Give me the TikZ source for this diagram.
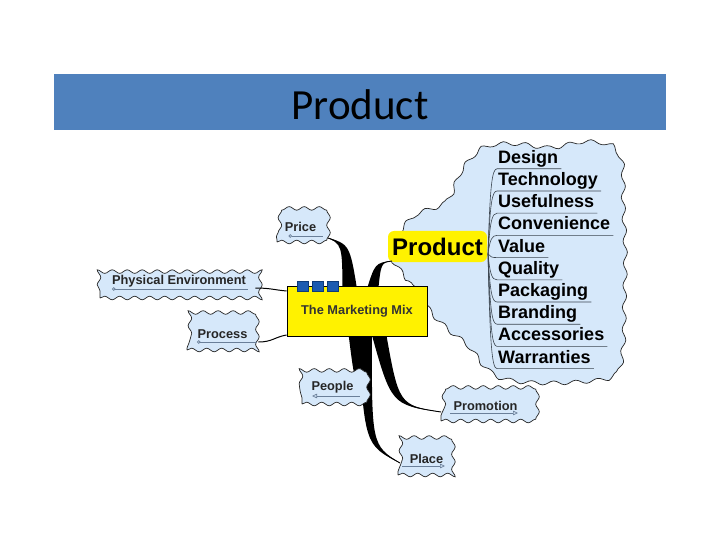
\documentclass[tikz,border=0pt]{standalone}
\usepackage{fontspec}
\setmainfont{Liberation Sans}
\newfontfamily\calibrifont{Carlito}
\usetikzlibrary{decorations.pathmorphing,calc,arrows.meta}
\definecolor{titleblue}{HTML}{4F81BD}
\definecolor{cloudblue}{HTML}{D6E8FA}
\definecolor{ulinecol}{HTML}{6A7F99}
\definecolor{fancol}{HTML}{3C4650}
\definecolor{sqblue}{HTML}{1C5BB0}
\definecolor{sqedge}{HTML}{0D3B7A}
\tikzset{
  smallcloud/.style={draw=black!85, line width=0.7pt, fill=cloudblue, decorate,
    decoration={snake, amplitude=1.8pt, segment length=15pt}, inner sep=0pt,
    font=\fontsize{12.8}{14}\selectfont\bfseries, text=black!85},
  uline/.style={draw=ulinecol, line width=0.7pt},
  fanline/.style={draw=fancol, line width=0.6pt},
  itemtext/.style={font=\fontsize{18}{20}\selectfont\bfseries, text=black, inner sep=0pt},
  thinconn/.style={draw=black, line width=1pt},
  branch/.style={fill=black},
  sqbox/.style={fill=sqblue, draw=sqedge, line width=0.5pt, minimum width=11pt, minimum height=10pt, inner sep=0pt},
}
\newcommand\taperbranch[4]{%
  \fill[branch] ($(#1)+(-#4,0)$) .. controls ($(#2)+(-0.5*#4,0)$) .. (#3)
     .. controls ($(#2)+(0.5*#4,0)$) .. ($(#1)+(#4,0)$) -- cycle;
  \draw[line width=0.9pt] (#1) .. controls (#2) .. (#3);
}
\begin{document}
\begin{tikzpicture}[x=1pt,y=-1pt]
\useasboundingbox (0,0) rectangle (720,540);
\fill[white] (0,0) rectangle (720,540);

% title bar
\node[fill=titleblue, minimum width=612pt, minimum height=56pt, inner sep=0pt] (bar) at (360,102) {};
\node[font=\calibrifont\fontsize{43}{48}\selectfont, anchor=base, text=black, inner sep=0pt] (title) at (360,120) {Product};

% big cloud
\filldraw[fill=cloudblue, draw=black!85, line width=0.7pt, decorate,
  decoration={snake, amplitude=2pt, segment length=22pt}]
  plot[smooth cycle, tension=0.55] coordinates {
   (395,262) (413,285) (428,308) (445,325) (465,341) (480,360) (497,373)
   (530,378) (580,377) (613,370) (620,340) (621,300) (622,250) (620,200)
   (619,160) (608,141) (580,137) (547,143) (512,139) (480,143) (458,166)
   (443,197) (412,210) (393,233) (387,248)};

% fan lines and items
\coordinate (fan) at (488,254);
\foreach \t [count=\i from 0] in {Design,Technology,Usefulness,Convenience,Value,Quality,Packaging,Branding,Accessories,Warranties}{
  \pgfmathsetmacro\yb{163.3+22.2*\i}
  \pgfmathsetmacro\yu{\yb+5.5}
  \pgfmathsetmacro\yc{\yu+0.2*(254-\yu)}
  \node[itemtext, anchor=base west] (it\i) at (498,\yb) {\t};
  \draw[fanline] (fan) .. controls (490,\yc) and (492,\yu) .. (497,\yu) -- ($(it\i.base east)+(3,5.5)$);
}

% product label
\node[fill=yellow, rounded corners=6pt, minimum width=99pt, minimum height=31pt, inner sep=0pt,
  font=\fontsize{24}{26}\selectfont\bfseries] (prod) at (437.5,246.5) {Product};

% marketing mix box position
\coordinate (mixc) at (357,311);

% thick branches
\coordinate (rprice) at (350,292);
\coordinate (cprice) at (346,244);
\coordinate (tprice) at (325,237);
\coordinate (rprod) at (372,292);
\coordinate (cprod) at (378,263);
\coordinate (tprod) at (392,261);
\coordinate (rpeople) at (354,330);
\coordinate (cpeople) at (357,378);
\coordinate (tpeople) at (362,396);
\coordinate (rplace) at (365,330);
\coordinate (cplace) at (368,445);
\coordinate (tplace) at (400,463);
\coordinate (rpromo) at (378,330);
\coordinate (cpromo) at (395,405);
\coordinate (tpromo) at (441,412);
\taperbranch{rprice}{cprice}{tprice}{7.5}
\taperbranch{rprod}{cprod}{tprod}{6}
\taperbranch{rpeople}{cpeople}{tpeople}{6}
\taperbranch{rplace}{cplace}{tplace}{7}
\taperbranch{rpromo}{cpromo}{tpromo}{7.5}

% small clouds
\node[smallcloud, minimum width=47pt, minimum height=30pt] (price) at (300.5,227) {Price};
\node[smallcloud, minimum width=158pt, minimum height=34pt] (pe) at (179,281) {Physical Environment};
\node[smallcloud, minimum width=71pt, minimum height=32pt] (proc) at (222.5,334) {Process};
\node[smallcloud, minimum width=61pt, minimum height=33pt] (people) at (332.5,387.5) {People};
\node[smallcloud, minimum width=89pt, minimum height=31pt] (promo) at (485.5,405.5) {Promotion};
\node[smallcloud, minimum width=57pt, minimum height=32pt] (place) at (426.5,459) {Place};

% underlines in small clouds
\draw[uline, {Circle[open,length=3.5pt,width=3.5pt]}-] ($(price.center)+(-12,9)$) -- ($(price.center)+(22,9)$);
\draw[uline, {Circle[open,length=3.5pt,width=3.5pt]}-] ($(pe.center)+(-67,8)$) -- ($(pe.center)+(69,8)$);
\draw[uline, {Circle[open,length=3.5pt,width=3.5pt]}-] ($(proc.center)+(-25.5,8)$) -- ($(proc.center)+(34,8)$);
\draw[uline, {Triangle[open,length=5pt,width=4.5pt]}-] ($(people.center)+(-20.5,8.5)$) -- ($(people.center)+(27.5,8.5)$);
\draw[uline, -{Triangle[open,length=5pt,width=4.5pt]}] ($(promo.center)+(-35.5,7.5)$) -- ($(promo.center)+(32.5,7.5)$);
\draw[uline, -{Triangle[open,length=5pt,width=4.5pt]}] ($(place.center)+(-24.5,7)$) -- ($(place.center)+(18.5,7)$);

% marketing mix box
\node[fill=yellow, draw=black, line width=0.8pt, minimum width=140pt, minimum height=50pt, inner sep=0pt,
  font=\fontsize{12.8}{14}\selectfont\bfseries, text=black!80] (mix) at (mixc) {The Marketing Mix};
\node[sqbox] (sq1) at (302.5,286) {};
\node[sqbox] (sq2) at (317.5,286) {};
\node[sqbox] (sq3) at (332.5,286) {};

% thin connectors
\draw[thinconn] ($(pe.east)+(-3,7)$) .. controls ($(pe.east)+(12,7)$) and ($(mix.west)+(-12,-21)$) .. ($(mix.west)+(0,-20)$);
\draw[thinconn] ($(proc.east)+(0,8)$) .. controls ($(proc.east)+(14,8)$) and ($(mix.west)+(-12,26)$) .. ($(mix.west)+(0,24)$);
\end{tikzpicture}
\end{document}
